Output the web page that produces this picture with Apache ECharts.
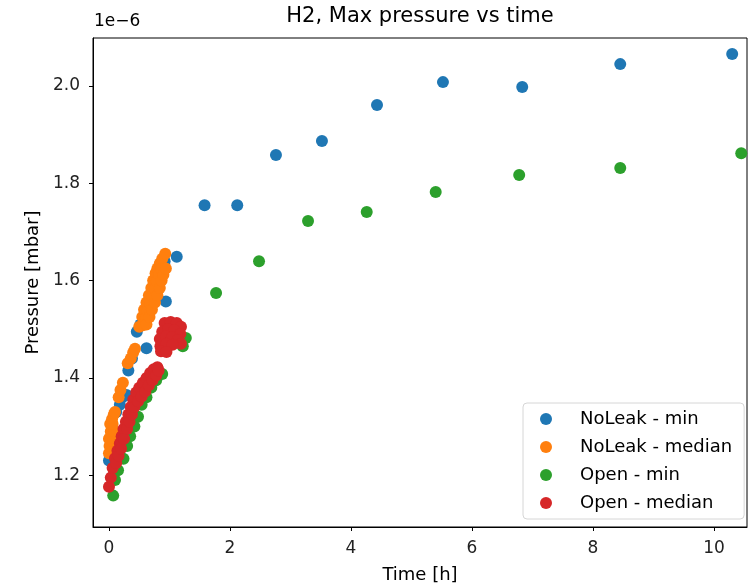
<!DOCTYPE html>
<html>
<head>
<meta charset="utf-8">
<script src="https://cdn.jsdelivr.net/npm/echarts@6/dist/echarts.min.js"></script>
<style>
  html, body { margin: 0; padding: 0; background: #fff; }
  #chart { width: 752px; height: 586px; }
</style>
</head>
<body>
<div id="chart"></div>
<script>
  // pressure values are in units of 1e-6 mbar (offset text drawn separately)
  const seriesNames = ['NoLeak - min', 'NoLeak - median', 'Open - min', 'Open - median']
  const colors = ['#1f77b4', '#ff7f0e', '#2ca02c', '#d62728']
  const xTicks = [0, 2, 4, 6, 8, 10]
  const yTicks = [1.2, 1.4, 1.6, 1.8, 2.0]

  const noLeakMin = [
    [0.0, 1.23], [0.03, 1.27], [0.05, 1.30], [0.12, 1.33], [0.18, 1.345],
    [0.22, 1.36], [0.29, 1.365], [0.32, 1.415], [0.38, 1.44], [0.46, 1.495],
    [0.52, 1.51], [0.62, 1.461], [0.6, 1.53], [0.68, 1.55], [0.75, 1.58],
    [0.94, 1.557], [0.85, 1.61], [0.92, 1.64], [1.12, 1.649],
    [1.58, 1.755], [2.12, 1.755], [2.76, 1.858], [3.52, 1.887], [4.43, 1.961],
    [5.52, 2.008], [6.83, 1.998], [8.45, 2.045], [10.30, 2.066]
  ]

  const noLeakMedian = [
    [0.0, 1.245], [0.01, 1.26], [0.0, 1.275], [0.03, 1.29], [0.02, 1.305],
    [0.05, 1.315], [0.08, 1.325], [0.1, 1.33], [0.07, 1.27], [0.09, 1.29],
    [0.06, 1.305], [0.16, 1.36], [0.19, 1.375], [0.23, 1.39],
    [0.31, 1.43], [0.36, 1.44], [0.4, 1.452], [0.43, 1.46],
    [0.50, 1.505], [0.55, 1.525], [0.58, 1.54], [0.62, 1.555], [0.66, 1.57],
    [0.70, 1.585], [0.73, 1.60], [0.77, 1.615], [0.80, 1.625], [0.84, 1.635],
    [0.88, 1.645], [0.93, 1.655],
    [0.56, 1.508], [0.61, 1.523], [0.64, 1.538], [0.68, 1.553], [0.72, 1.568],
    [0.76, 1.583], [0.79, 1.598], [0.83, 1.612], [0.86, 1.624],
    [0.62, 1.51], [0.67, 1.525], [0.71, 1.54], [0.76, 1.555], [0.8, 1.57],
    [0.84, 1.585], [0.87, 1.60], [0.9, 1.612], [0.94, 1.625]
  ]

  const openMin = [
    [0.07, 1.158], [0.1, 1.19], [0.15, 1.21], [0.24, 1.234], [0.3, 1.26],
    [0.35, 1.28], [0.42, 1.30], [0.48, 1.32], [0.54, 1.345], [0.62, 1.36],
    [0.7, 1.38], [0.78, 1.395], [0.88, 1.408], [1.22, 1.465], [1.27, 1.482],
    [1.77, 1.5745], [2.48, 1.640], [3.29, 1.7225], [4.26, 1.741], [5.40, 1.782],
    [6.78, 1.817], [8.45, 1.8315], [10.45, 1.862]
  ]

  const openMedian = [
    [0.0, 1.176], [0.03, 1.195], [0.06, 1.215], [0.1, 1.235], [0.14, 1.25],
    [0.18, 1.265], [0.21, 1.28], [0.24, 1.295], [0.28, 1.31], [0.32, 1.325],
    [0.36, 1.34], [0.4, 1.355], [0.45, 1.37], [0.5, 1.38], [0.56, 1.39],
    [0.62, 1.40], [0.68, 1.41], [0.74, 1.418], [0.8, 1.422],
    [0.12, 1.225], [0.16, 1.24], [0.2, 1.255], [0.25, 1.275], [0.3, 1.295],
    [0.34, 1.31], [0.38, 1.325], [0.42, 1.34], [0.48, 1.352], [0.54, 1.362],
    [0.6, 1.372], [0.66, 1.385], [0.72, 1.395], [0.78, 1.405], [0.82, 1.415],
    [0.92, 1.513], [1.02, 1.515], [1.12, 1.513], [1.19, 1.505], [0.88, 1.495],
    [0.98, 1.5], [1.08, 1.498], [1.18, 1.49], [0.84, 1.48], [0.94, 1.485],
    [1.04, 1.483], [1.14, 1.478], [1.19, 1.47], [0.85, 1.465], [0.95, 1.47],
    [1.05, 1.468], [0.86, 1.455], [0.95, 1.453]
  ]

  const allData = [noLeakMin, noLeakMedian, openMin, openMedian]
  const font = 'DejaVu Sans'

  const myChart = echarts.init(document.getElementById('chart'))

  const option = {
    animation: false,
    backgroundColor: '#fff',
    textStyle: { fontFamily: font },
    graphic: [
      {
        type: 'text',
        x: 420,
        y: 17,
        style: {
          text: 'H2, Max pressure vs time',
          font: '21px ' + font,
          fill: '#000',
          textAlign: 'center',
          textVerticalAlign: 'middle'
        }
      },
      {
        type: 'text',
        x: 94,
        y: 22,
        style: {
          text: '1e\u22126',
          font: '17px ' + font,
          fill: '#000',
          textAlign: 'left',
          textVerticalAlign: 'middle'
        }
      }
    ],
    grid: {
      left: 93,
      top: 38,
      right: 5,
      bottom: 59,
      outerBoundsMode: 'none',
      containLabel: false,
      show: true,
      borderColor: '#000',
      borderWidth: 1
    },
    legend: {
      data: seriesNames,
      orient: 'vertical',
      left: 523,
      top: 403,
      icon: 'circle',
      itemWidth: 24,
      itemHeight: 12,
      itemGap: 10,
      padding: [7, 12, 7, 17],
      backgroundColor: 'rgba(255,255,255,0.8)',
      borderColor: '#d6d6d6',
      borderWidth: 1,
      borderRadius: 4,
      textStyle: {
        fontFamily: font,
        fontSize: 18,
        lineHeight: 18,
        color: '#000',
        padding: [0, 0, 0, 17]
      }
    },
    xAxis: {
      type: 'value',
      min: -0.264,
      max: 10.545,
      name: 'Time [h]',
      nameLocation: 'middle',
      nameGap: 39,
      nameTextStyle: { fontFamily: font, fontSize: 18, color: '#000' },
      axisLine: { show: true, onZero: false, lineStyle: { color: '#000', width: 1 } },
      axisTick: { show: true, length: 4, customValues: xTicks, lineStyle: { color: '#000' } },
      axisLabel: {
        customValues: xTicks,
        margin: 13,
        fontFamily: font,
        fontSize: 17,
        color: '#222',
        formatter: v => String(v)
      },
      splitLine: { show: false }
    },
    yAxis: {
      type: 'value',
      min: 1.0935,
      max: 2.0987,
      name: 'Pressure [mbar]',
      nameLocation: 'middle',
      nameGap: 51,
      nameTextStyle: { fontFamily: font, fontSize: 18, color: '#000' },
      axisLine: { show: true, onZero: false, lineStyle: { color: '#000', width: 1 } },
      axisTick: { show: true, length: 4, customValues: yTicks, lineStyle: { color: '#000' } },
      axisLabel: {
        customValues: yTicks,
        margin: 13,
        fontFamily: font,
        fontSize: 17,
        color: '#222',
        formatter: v => v.toFixed(1)
      },
      splitLine: { show: false }
    },
    series: allData.map((data, i) => ({
      name: seriesNames[i],
      type: 'scatter',
      data: data,
      symbolSize: 12,
      itemStyle: { color: colors[i], opacity: 1 },
      emphasis: { disabled: true }
    }))
  }

  myChart.setOption(option)

  window.onresize = function () {
    myChart.resize()
  }
</script>
</body>
</html>
